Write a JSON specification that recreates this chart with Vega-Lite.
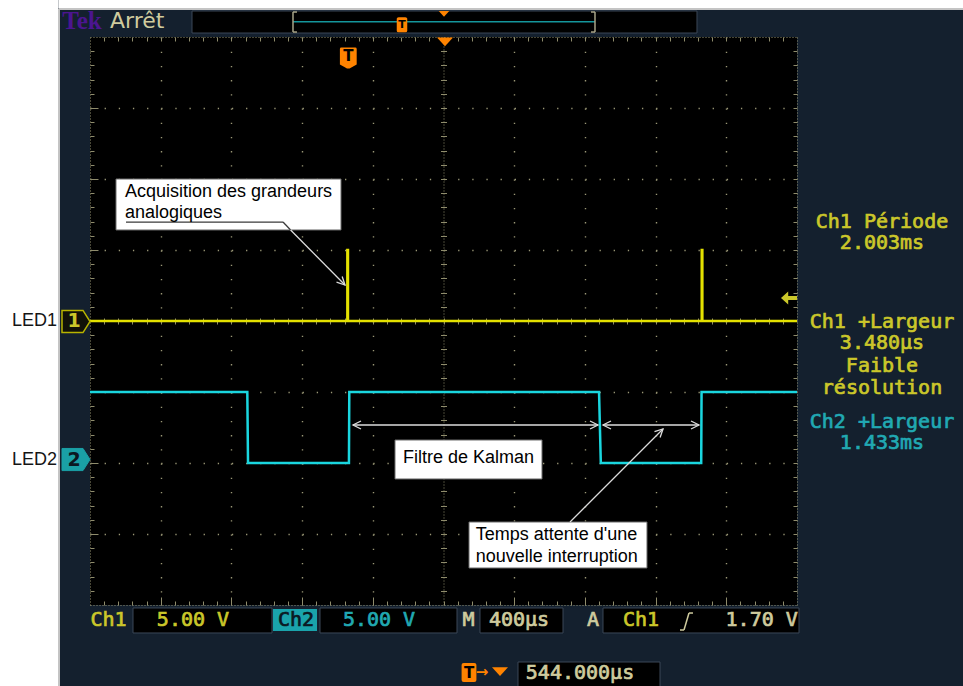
{
  "$schema": "https://vega.github.io/schema/vega-lite/v6.json",
  "width": 707,
  "height": 568,
  "autosize": {"type": "none"},
  "padding": {"left": 90, "top": 37, "right": 166, "bottom": 81},
  "background": "#14202e",
  "config": {"view": {"fill": "#000000", "stroke": null}, "font": "DejaVu Sans"},
  "datasets": {
    "page": [
      {"t": -1990, "t2": -1634.2, "d": -5.3, "d2": 4.6},
      {"t": -1634.2, "t2": 3500, "d": 4.408, "d2": 4.6}
    ],
    "pageEdge": [
      {"t": -1631.4, "t2": -1631.4, "d": 4.394, "d2": -5.3},
      {"t": -1631.4, "t2": 3500, "d": 4.394, "d2": 4.394}
    ],
    "panels": [
      {"part": "record", "t": -878.9, "t2": 1978.2, "d": 4.366, "d2": 4.056},
      {"part": "ch1 scale", "t": -1212.7, "t2": -426.3, "d": -4.042, "d2": -4.394},
      {"part": "ch2 scale", "t": -154.7, "t2": 620.4, "d": -4.042, "d2": -4.394},
      {"part": "timebase", "t": 750.5, "t2": 1220.1, "d": -4.042, "d2": -4.394},
      {"part": "trigger", "t": 1446.4, "t2": 2555.3, "d": -4.042, "d2": -4.394},
      {"part": "position", "t": 965.5, "t2": 1768.9, "d": -4.803, "d2": -5.3}
    ],
    "chip": [{"t": -420.6, "t2": -171.7, "d": -4.056, "d2": -4.366}],
    "scopeRules": [
      {"t": -307.5, "t2": 1401.1, "d": 4.215, "d2": 4.215, "tone": "teal"},
      {"t": -307.5, "t2": -307.5, "d": 4.352, "d2": 4.07, "tone": "bracket"},
      {"t": -307.5, "t2": -285, "d": 4.352, "d2": 4.352, "tone": "bracket"},
      {"t": -307.5, "t2": -285, "d": 4.07, "d2": 4.07, "tone": "bracket"},
      {"t": 1401.1, "t2": 1401.1, "d": 4.352, "d2": 4.07, "tone": "bracket"},
      {"t": 1378.5, "t2": 1401.1, "d": 4.352, "d2": 4.352, "tone": "bracket"},
      {"t": 1378.5, "t2": 1401.1, "d": 4.07, "d2": 4.07, "tone": "bracket"},
      {"t": 1882.0, "t2": 1904.6, "d": -4.352, "d2": -4.352, "tone": "info"},
      {"t": 1904.6, "t2": 1932.9, "d": -4.352, "d2": -4.113, "tone": "info"},
      {"t": 1932.9, "t2": 1955.5, "d": -4.113, "d2": -4.113, "tone": "info"}
    ],
    "ch1": [
      {"t": -1456, "d": 0, "i": 0},
      {"t": 0, "d": 0, "i": 1},
      {"t": 0, "d": 1, "i": 2},
      {"t": 3.5, "d": 1, "i": 3},
      {"t": 3.5, "d": 0, "i": 4},
      {"t": 2005, "d": 0, "i": 5},
      {"t": 2005, "d": 1, "i": 6},
      {"t": 2008.5, "d": 1, "i": 7},
      {"t": 2008.5, "d": 0, "i": 8},
      {"t": 2544, "d": 0, "i": 9}
    ],
    "ch2": [
      {"t": -1456, "d": -1, "i": 0},
      {"t": -566, "d": -1, "i": 1},
      {"t": -562, "d": -2, "i": 2},
      {"t": 9, "d": -2, "i": 3},
      {"t": 11, "d": -1, "i": 4},
      {"t": 1424, "d": -1, "i": 5},
      {"t": 1434, "d": -2, "i": 6},
      {"t": 2002, "d": -2, "i": 7},
      {"t": 2004, "d": -1, "i": 8},
      {"t": 2544, "d": -1, "i": 9}
    ],
    "notes": [
      {"t": -1308.9, "t2": -35.9, "d": 2.0, "d2": 1.282},
      {"t": 269.6, "t2": 1101.3, "d": -1.676, "d2": -2.225},
      {"t": 688.3, "t2": 1695.3, "d": -2.831, "d2": -3.479}
    ],
    "leaders": [
      {"t": -1252.3, "t2": -364.1, "d": 1.394, "d2": 1.394, "tone": "shade"},
      {"t": -364.1, "t2": -321.1, "d": 1.394, "d2": 1.282, "tone": "shade"},
      {"t": -321.1, "t2": -13.3, "d": 1.282, "d2": 0.507, "tone": "light"},
      {"t": 32, "t2": 1418.1, "d": -1.465, "d2": -1.465, "tone": "light"},
      {"t": 1446.4, "t2": 1989.5, "d": -1.465, "d2": -1.465, "tone": "light"},
      {"t": 1259.7, "t2": 1785.9, "d": -2.831, "d2": -1.521, "tone": "light"}
    ],
    "heads": [
      {"t": 32, "d": -1.465, "heading": 180},
      {"t": 1418.1, "d": -1.465, "heading": 0},
      {"t": 1446.4, "d": -1.465, "heading": 180},
      {"t": 1989.5, "d": -1.465, "heading": 0},
      {"t": -13.3, "d": 0.507, "heading": 45},
      {"t": 1785.9, "d": -1.521, "heading": 315.6}
    ],
    "noteText": [
      {"label": "Acquisition des grandeurs", "t": -1258, "d": 1.821},
      {"label": "analogiques", "t": -1258, "d": 1.521},
      {"label": "Filtre de Kalman", "t": 314.9, "d": -1.934},
      {"label": "Temps attente d'une", "t": 726.2, "d": -3.014},
      {"label": "nouvelle interruption", "t": 726.2, "d": -3.324}
    ],
    "ledText": [
      {"label": "LED1", "t": -1642.7, "d": -0.007},
      {"label": "LED2", "t": -1642.7, "d": -1.958}
    ],
    "readouts": [
      {"label": "Ch1 Période", "t": 3024.9, "d": 1.399, "tone": "ch1"},
      {"label": "2.003ms", "t": 3024.9, "d": 1.094, "tone": "ch1"},
      {"label": "Ch1 +Largeur", "t": 3024.9, "d": -0.01, "tone": "ch1"},
      {"label": "3.480µs", "t": 3024.9, "d": -0.314, "tone": "ch1"},
      {"label": "Faible", "t": 3024.9, "d": -0.634, "tone": "ch1"},
      {"label": "résolution", "t": 3024.9, "d": -0.948, "tone": "ch1"},
      {"label": "Ch2 +Largeur", "t": 3024.9, "d": -1.418, "tone": "ch2"},
      {"label": "1.433ms", "t": 3024.9, "d": -1.722, "tone": "ch2"},
      {"label": "Ch1", "t": -1351.3, "d": -4.211, "tone": "ch1"},
      {"label": "5.00 V", "t": -873.3, "d": -4.211, "tone": "ch1"},
      {"label": "Ch2", "t": -290.5, "d": -4.211, "tone": "dark"},
      {"label": "5.00 V", "t": 179.1, "d": -4.211, "tone": "ch2"},
      {"label": "M", "t": 685.4, "d": -4.211, "tone": "info"},
      {"label": "400µs", "t": 971.2, "d": -4.211, "tone": "info"},
      {"label": "A", "t": 1389.8, "d": -4.211, "tone": "info"},
      {"label": "Ch1", "t": 1661.4, "d": -4.211, "tone": "ch1"},
      {"label": "1.70 V", "t": 2344.3, "d": -4.211, "tone": "info"},
      {"label": "544.000µs", "t": 1316.3, "d": -4.951, "tone": "info"}
    ],
    "digits": [
      {"label": "1", "t": -1546.5, "d": -0.007, "tone": "ch1"},
      {"label": "2", "t": -1546.5, "d": -1.951, "tone": "dark"}
    ],
    "marker1": [{"t": -1535.2, "d": -0.007}],
    "marker2": [{"t": -1535.2, "d": -1.951}],
    "shieldPlot": [{"t": 5.4, "d": 3.704}],
    "shieldRecord": [{"t": 309.2, "d": 4.172}],
    "shieldBottom": [{"t": 688.3, "d": -4.951}],
    "triPlot": [{"t": 552.5, "d": 3.93}],
    "triRecord": [{"t": 546.8, "d": 4.327}],
    "triBottom": [{"t": 863.7, "d": -4.937}],
    "levelArrow": [{"t": 2498.7, "d": 0.324}],
    "tMid": [{"label": "T", "t": 5.4, "d": 3.73}, {"label": "T", "t": 688.3, "d": -4.951}],
    "tSmall": [{"label": "T", "t": 309.2, "d": 4.172}],
    "flow": [{"label": "→", "t": 761.8, "d": -4.94}],
    "brand": [{"label": "Tek", "t": -1501.3, "d": 4.225}],
    "state": [{"label": "Arrêt", "t": -1342.8, "d": 4.225}]
  },
  "layer": [
    {
      "data": {"name": "page"},
      "mark": {"type": "rect", "color": "#ffffff", "clip": false},
      "encoding": {
        "x": {"field": "t", "type": "quantitative", "scale": {"domain": [-1456, 2544], "nice": false, "zero": false},
          "axis": {"orient": "bottom", "title": null, "labels": false, "grid": false, "domain": true, "domainColor": "#8f8c6c", "domainDash": [1, 2], "ticks": true, "tickSize": -4, "tickColor": "#8f8c6c",
            "values": [-1376,-1296,-1216,-1136,-1056,-976,-896,-816,-736,-656,-576,-496,-416,-336,-256,-176,-96,-16,64,144,224,304,384,464,544,624,704,784,864,944,1024,1104,1184,1264,1344,1424,1504,1584,1664,1744,1824,1904,1984,2064,2144,2224,2304,2384,2464]}},
        "x2": {"field": "t2"},
        "y": {"field": "d", "type": "quantitative", "scale": {"domain": [-4, 4], "nice": false, "zero": false},
          "axis": {"orient": "left", "title": null, "labels": false, "grid": false, "domain": true, "domainColor": "#8f8c6c", "domainDash": [1, 2], "ticks": true, "tickSize": -4, "tickColor": "#8f8c6c",
            "values": [-3.8,-3.6,-3.4,-3.2,-3,-2.8,-2.6,-2.4,-2.2,-2,-1.8,-1.6,-1.4,-1.2,-1,-0.8,-0.6,-0.4,-0.2,0,0.2,0.4,0.6,0.8,1,1.2,1.4,1.6,1.8,2,2.2,2.4,2.6,2.8,3,3.2,3.4,3.6,3.8]}},
        "y2": {"field": "d2"}
      }
    },
    {
      "data": {"name": "pageEdge"},
      "mark": {"type": "rule", "color": "#c4c4c4", "strokeWidth": 2, "clip": false},
      "encoding": {
        "x": {"field": "t", "type": "quantitative", "scale": {"domain": [-1456, 2544], "nice": false, "zero": false},
          "axis": {"orient": "top", "title": null, "labels": false, "grid": false, "domain": true, "domainColor": "#8f8c6c", "domainDash": [1, 2], "ticks": true, "tickSize": -4, "tickColor": "#8f8c6c",
            "values": [-1376,-1296,-1216,-1136,-1056,-976,-896,-816,-736,-656,-576,-496,-416,-336,-256,-176,-96,-16,64,144,224,304,384,464,544,624,704,784,864,944,1024,1104,1184,1264,1344,1424,1504,1584,1664,1744,1824,1904,1984,2064,2144,2224,2304,2384,2464]}},
        "x2": {"field": "t2"},
        "y": {"field": "d", "type": "quantitative", "scale": {"domain": [-4, 4], "nice": false, "zero": false},
          "axis": {"orient": "right", "title": null, "labels": false, "grid": false, "domain": true, "domainColor": "#8f8c6c", "domainDash": [1, 2], "ticks": true, "tickSize": -4, "tickColor": "#8f8c6c",
            "values": [-3.8,-3.6,-3.4,-3.2,-3,-2.8,-2.6,-2.4,-2.2,-2,-1.8,-1.6,-1.4,-1.2,-1,-0.8,-0.6,-0.4,-0.2,0,0.2,0.4,0.6,0.8,1,1.2,1.4,1.6,1.8,2,2.2,2.4,2.6,2.8,3,3.2,3.4,3.6,3.8]}},
        "y2": {"field": "d2"}
      }
    },
    {
      "data": {"name": "panels"},
      "mark": {"type": "rect", "fill": "#000000", "stroke": "#3b4757", "strokeWidth": 1, "clip": false},
      "encoding": {
        "x": {"field": "t", "type": "quantitative", "scale": {"domain": [-1456, 2544], "nice": false, "zero": false},
          "axis": {"orient": "bottom", "title": null, "labels": false, "domain": false, "ticks": true, "tickSize": -8, "tickColor": "#8f8c6c", "grid": true, "gridColor": "#9a9776", "gridDash": [1.3, 12.9], "gridWidth": 1.4,
            "values": [-1056, -656, -256, 144, 944, 1344, 1744, 2144]}},
        "x2": {"field": "t2"},
        "y": {"field": "d", "type": "quantitative", "scale": {"domain": [-4, 4], "nice": false, "zero": false},
          "axis": {"orient": "left", "title": null, "labels": false, "domain": false, "ticks": true, "tickSize": -8, "tickColor": "#8f8c6c", "grid": true, "gridColor": "#9a9776", "gridDash": [1.3, 12.84], "gridWidth": 1.4,
            "values": [-3, -2, -1, 1, 2, 3]}},
        "y2": {"field": "d2"}
      }
    },
    {
      "data": {"name": "chip"},
      "mark": {"type": "rect", "fill": "#1aa3ab", "clip": false},
      "encoding": {
        "x": {"field": "t", "type": "quantitative", "scale": {"domain": [-1456, 2544], "nice": false, "zero": false},
          "axis": {"orient": "bottom", "offset": -284, "title": null, "labels": false, "grid": false, "domain": true, "domainColor": "#8f8c6c", "domainDash": [1, 2], "ticks": true, "tickSize": 3, "tickColor": "#8f8c6c",
            "values": [-1376,-1296,-1216,-1136,-1056,-976,-896,-816,-736,-656,-576,-496,-416,-336,-256,-176,-96,-16,64,144,224,304,384,464,544,624,704,784,864,944,1024,1104,1184,1264,1344,1424,1504,1584,1664,1744,1824,1904,1984,2064,2144,2224,2304,2384,2464]}},
        "x2": {"field": "t2"},
        "y": {"field": "d", "type": "quantitative", "scale": {"domain": [-4, 4], "nice": false, "zero": false},
          "axis": {"orient": "left", "offset": -353.5, "title": null, "labels": false, "grid": false, "domain": true, "domainColor": "#8f8c6c", "domainDash": [1, 2], "ticks": true, "tickSize": 3, "tickColor": "#8f8c6c",
            "values": [-3.8,-3.6,-3.4,-3.2,-3,-2.8,-2.6,-2.4,-2.2,-2,-1.8,-1.6,-1.4,-1.2,-1,-0.8,-0.6,-0.4,-0.2,0,0.2,0.4,0.6,0.8,1,1.2,1.4,1.6,1.8,2,2.2,2.4,2.6,2.8,3,3.2,3.4,3.6,3.8]}},
        "y2": {"field": "d2"}
      }
    },
    {
      "data": {"name": "scopeRules"},
      "mark": {"type": "rule", "strokeWidth": 1.5, "clip": false},
      "encoding": {
        "x": {"field": "t", "type": "quantitative", "scale": {"domain": [-1456, 2544], "nice": false, "zero": false},
          "axis": {"orient": "top", "offset": -284, "title": null, "labels": false, "grid": false, "domain": false, "ticks": true, "tickSize": 3, "tickColor": "#8f8c6c",
            "values": [-1376,-1296,-1216,-1136,-1056,-976,-896,-816,-736,-656,-576,-496,-416,-336,-256,-176,-96,-16,64,144,224,304,384,464,544,624,704,784,864,944,1024,1104,1184,1264,1344,1424,1504,1584,1664,1744,1824,1904,1984,2064,2144,2224,2304,2384,2464]}},
        "x2": {"field": "t2"},
        "y": {"field": "d", "type": "quantitative", "scale": {"domain": [-4, 4], "nice": false, "zero": false},
          "axis": {"orient": "right", "offset": -353.5, "title": null, "labels": false, "grid": false, "domain": false, "ticks": true, "tickSize": 3, "tickColor": "#8f8c6c",
            "values": [-3.8,-3.6,-3.4,-3.2,-3,-2.8,-2.6,-2.4,-2.2,-2,-1.8,-1.6,-1.4,-1.2,-1,-0.8,-0.6,-0.4,-0.2,0,0.2,0.4,0.6,0.8,1,1.2,1.4,1.6,1.8,2,2.2,2.4,2.6,2.8,3,3.2,3.4,3.6,3.8]}},
        "y2": {"field": "d2"},
        "color": {"field": "tone", "type": "nominal", "legend": null,
          "scale": {"domain": ["ch1", "ch2", "info", "dark", "ink", "light", "shade", "teal", "bracket"], "range": ["#cbc72a", "#21a9b3", "#cfcb9e", "#0b1822", "#000000", "#dcdcdc", "#3a3a3a", "#14969c", "#a8a488"]}}
      }
    },
    {
      "data": {"name": "ch2"},
      "mark": {"type": "line", "color": "#1ad6df", "strokeWidth": 2.5, "clip": false},
      "encoding": {
        "x": {"field": "t", "type": "quantitative", "axis": null},
        "y": {"field": "d", "type": "quantitative", "axis": null},
        "order": {"field": "i", "type": "quantitative"}
      }
    },
    {
      "data": {"name": "ch1"},
      "mark": {"type": "line", "color": "#e4e100", "strokeWidth": 2.5, "clip": false},
      "encoding": {
        "x": {"field": "t", "type": "quantitative", "axis": null},
        "y": {"field": "d", "type": "quantitative", "axis": null},
        "order": {"field": "i", "type": "quantitative"}
      }
    },
    {
      "data": {"name": "notes"},
      "mark": {"type": "rect", "fill": "#ffffff", "stroke": "#6a6a6a", "strokeWidth": 1, "clip": false},
      "encoding": {
        "x": {"field": "t", "type": "quantitative", "axis": null},
        "x2": {"field": "t2"},
        "y": {"field": "d", "type": "quantitative", "axis": null},
        "y2": {"field": "d2"}
      }
    },
    {
      "data": {"name": "leaders"},
      "mark": {"type": "rule", "strokeWidth": 1.3, "clip": false},
      "encoding": {
        "x": {"field": "t", "type": "quantitative", "axis": null},
        "x2": {"field": "t2"},
        "y": {"field": "d", "type": "quantitative", "axis": null},
        "y2": {"field": "d2"},
        "color": {"field": "tone", "type": "nominal", "legend": null,
          "scale": {"domain": ["ch1", "ch2", "info", "dark", "ink", "light", "shade", "teal", "bracket"], "range": ["#cbc72a", "#21a9b3", "#cfcb9e", "#0b1822", "#000000", "#dcdcdc", "#3a3a3a", "#14969c", "#a8a488"]}}
      }
    },
    {
      "data": {"name": "heads"},
      "mark": {"type": "point", "shape": "M-1,-0.5L0,0L-1,0.5", "filled": false, "color": "#dcdcdc", "strokeWidth": 1.3, "size": 256, "opacity": 1, "clip": false},
      "encoding": {
        "x": {"field": "t", "type": "quantitative", "axis": null},
        "y": {"field": "d", "type": "quantitative", "axis": null},
        "angle": {"field": "heading", "type": "quantitative", "scale": null}
      }
    },
    {
      "data": {"name": "noteText"},
      "mark": {"type": "text", "font": "Liberation Sans", "fontSize": 18, "align": "left", "baseline": "middle", "color": "#000000", "clip": false},
      "encoding": {
        "x": {"field": "t", "type": "quantitative", "axis": null},
        "y": {"field": "d", "type": "quantitative", "axis": null},
        "text": {"field": "label", "type": "nominal"}
      }
    },
    {
      "data": {"name": "ledText"},
      "mark": {"type": "text", "font": "Liberation Sans", "fontSize": 18, "align": "right", "baseline": "middle", "color": "#151515", "clip": false},
      "encoding": {
        "x": {"field": "t", "type": "quantitative", "axis": null},
        "y": {"field": "d", "type": "quantitative", "axis": null},
        "text": {"field": "label", "type": "nominal"}
      }
    },
    {
      "data": {"name": "readouts"},
      "mark": {"type": "text", "font": "DejaVu Sans Mono", "fontSize": 20, "align": "center", "baseline": "middle", "strokeWidth": 0.7, "clip": false},
      "encoding": {
        "x": {"field": "t", "type": "quantitative", "axis": null},
        "y": {"field": "d", "type": "quantitative", "axis": null},
        "text": {"field": "label", "type": "nominal"},
        "color": {"field": "tone", "type": "nominal", "legend": null,
          "scale": {"domain": ["ch1", "ch2", "info", "dark", "ink", "light", "shade", "teal", "bracket"], "range": ["#cbc72a", "#21a9b3", "#cfcb9e", "#0b1822", "#000000", "#dcdcdc", "#3a3a3a", "#14969c", "#a8a488"]}},
        "stroke": {"field": "tone", "type": "nominal", "legend": null,
          "scale": {"domain": ["ch1", "ch2", "info", "dark", "ink", "light", "shade", "teal", "bracket"], "range": ["#cbc72a", "#21a9b3", "#cfcb9e", "#0b1822", "#000000", "#dcdcdc", "#3a3a3a", "#14969c", "#a8a488"]}}
      }
    },
    {
      "data": {"name": "marker1"},
      "mark": {"type": "point", "shape": "M-1,-0.79L0.5,-0.79L1,0L0.5,0.79L-1,0.79Z", "size": 784, "filled": true, "fill": "#111108", "stroke": "#b8b400", "strokeWidth": 1.5, "opacity": 1, "clip": false},
      "encoding": {
        "x": {"field": "t", "type": "quantitative", "axis": null},
        "y": {"field": "d", "type": "quantitative", "axis": null}
      }
    },
    {
      "data": {"name": "marker2"},
      "mark": {"type": "point", "shape": "M-1,-0.79L0.5,-0.79L1,0L0.5,0.79L-1,0.79Z", "size": 784, "filled": true, "fill": "#1aa0a6", "stroke": "#1aa0a6", "strokeWidth": 1, "opacity": 1, "clip": false},
      "encoding": {
        "x": {"field": "t", "type": "quantitative", "axis": null},
        "y": {"field": "d", "type": "quantitative", "axis": null}
      }
    },
    {
      "data": {"name": "digits"},
      "mark": {"type": "text", "font": "DejaVu Sans", "fontWeight": "bold", "fontSize": 19, "align": "center", "baseline": "middle", "clip": false},
      "encoding": {
        "x": {"field": "t", "type": "quantitative", "axis": null},
        "y": {"field": "d", "type": "quantitative", "axis": null},
        "text": {"field": "label", "type": "nominal"},
        "color": {"field": "tone", "type": "nominal", "legend": null,
          "scale": {"domain": ["ch1", "ch2", "info", "dark", "ink", "light", "shade", "teal", "bracket"], "range": ["#cbc72a", "#21a9b3", "#cfcb9e", "#0b1822", "#000000", "#dcdcdc", "#3a3a3a", "#14969c", "#a8a488"]}}
      }
    },
    {
      "data": {"name": "shieldPlot"},
      "mark": {"type": "point", "shape": "M-0.8,-0.86Q-0.8,-1,-0.66,-1L0.66,-1Q0.8,-1,0.8,-0.86L0.8,0.62L0.12,1L-0.12,1L-0.8,0.62Z", "size": 441, "filled": true, "color": "#ff8300", "opacity": 1, "clip": false},
      "encoding": {
        "x": {"field": "t", "type": "quantitative", "axis": null},
        "y": {"field": "d", "type": "quantitative", "axis": null}
      }
    },
    {
      "data": {"name": "shieldRecord"},
      "mark": {"type": "point", "shape": "M-0.7,-0.8Q-0.7,-1,-0.45,-1L0.45,-1Q0.7,-1,0.7,-0.8L0.7,0.8Q0.7,1,0.45,1L-0.45,1Q-0.7,1,-0.7,0.8Z", "size": 225, "filled": true, "color": "#ff8300", "opacity": 1, "clip": false},
      "encoding": {
        "x": {"field": "t", "type": "quantitative", "axis": null},
        "y": {"field": "d", "type": "quantitative", "axis": null}
      }
    },
    {
      "data": {"name": "shieldBottom"},
      "mark": {"type": "point", "shape": "M-0.78,-0.8Q-0.78,-1,-0.55,-1L0.55,-1Q0.78,-1,0.78,-0.8L0.78,0.8Q0.78,1,0.55,1L-0.55,1Q-0.78,1,-0.78,0.8Z", "size": 361, "filled": true, "color": "#ff8300", "opacity": 1, "clip": false},
      "encoding": {
        "x": {"field": "t", "type": "quantitative", "axis": null},
        "y": {"field": "d", "type": "quantitative", "axis": null}
      }
    },
    {
      "data": {"name": "triPlot"},
      "mark": {"type": "point", "shape": "M-1,-0.55L1,-0.55L0,0.55Z", "size": 256, "filled": true, "color": "#ff8300", "opacity": 1, "clip": false},
      "encoding": {
        "x": {"field": "t", "type": "quantitative", "axis": null},
        "y": {"field": "d", "type": "quantitative", "axis": null}
      }
    },
    {
      "data": {"name": "triRecord"},
      "mark": {"type": "point", "shape": "M-1,-0.55L1,-0.55L0,0.55Z", "size": 110, "filled": true, "color": "#ff8300", "opacity": 1, "clip": false},
      "encoding": {
        "x": {"field": "t", "type": "quantitative", "axis": null},
        "y": {"field": "d", "type": "quantitative", "axis": null}
      }
    },
    {
      "data": {"name": "triBottom"},
      "mark": {"type": "point", "shape": "M-1,-0.55L1,-0.55L0,0.55Z", "size": 256, "filled": true, "color": "#ff8300", "opacity": 1, "clip": false},
      "encoding": {
        "x": {"field": "t", "type": "quantitative", "axis": null},
        "y": {"field": "d", "type": "quantitative", "axis": null}
      }
    },
    {
      "data": {"name": "levelArrow"},
      "mark": {"type": "point", "shape": "M-1,0L-0.1,-0.8L-0.1,-0.25L1,-0.25L1,0.25L-0.1,0.25L-0.1,0.8Z", "size": 256, "filled": true, "color": "#cbc72a", "opacity": 1, "clip": false},
      "encoding": {
        "x": {"field": "t", "type": "quantitative", "axis": null},
        "y": {"field": "d", "type": "quantitative", "axis": null}
      }
    },
    {
      "data": {"name": "tMid"},
      "mark": {"type": "text", "font": "DejaVu Sans", "fontWeight": "bold", "fontSize": 15, "align": "center", "baseline": "middle", "color": "#000000", "clip": false},
      "encoding": {
        "x": {"field": "t", "type": "quantitative", "axis": null},
        "y": {"field": "d", "type": "quantitative", "axis": null},
        "text": {"field": "label", "type": "nominal"}
      }
    },
    {
      "data": {"name": "tSmall"},
      "mark": {"type": "text", "font": "DejaVu Sans", "fontWeight": "bold", "fontSize": 11, "align": "center", "baseline": "middle", "color": "#000000", "clip": false},
      "encoding": {
        "x": {"field": "t", "type": "quantitative", "axis": null},
        "y": {"field": "d", "type": "quantitative", "axis": null},
        "text": {"field": "label", "type": "nominal"}
      }
    },
    {
      "data": {"name": "flow"},
      "mark": {"type": "text", "font": "DejaVu Sans", "fontWeight": "bold", "fontSize": 15, "align": "center", "baseline": "middle", "color": "#ff8300", "clip": false},
      "encoding": {
        "x": {"field": "t", "type": "quantitative", "axis": null},
        "y": {"field": "d", "type": "quantitative", "axis": null},
        "text": {"field": "label", "type": "nominal"}
      }
    },
    {
      "data": {"name": "brand"},
      "mark": {"type": "text", "font": "Liberation Serif", "fontWeight": "bold", "fontSize": 25, "align": "center", "baseline": "middle", "color": "#4b1590", "clip": false},
      "encoding": {
        "x": {"field": "t", "type": "quantitative", "axis": null},
        "y": {"field": "d", "type": "quantitative", "axis": null},
        "text": {"field": "label", "type": "nominal"}
      }
    },
    {
      "data": {"name": "state"},
      "mark": {"type": "text", "font": "DejaVu Sans", "fontSize": 22, "align": "left", "baseline": "middle", "color": "#cfcb9e", "clip": false},
      "encoding": {
        "x": {"field": "t", "type": "quantitative", "axis": null},
        "y": {"field": "d", "type": "quantitative", "axis": null},
        "text": {"field": "label", "type": "nominal"}
      }
    }
  ],
  "resolve": {"axis": {"x": "independent", "y": "independent"}}
}
